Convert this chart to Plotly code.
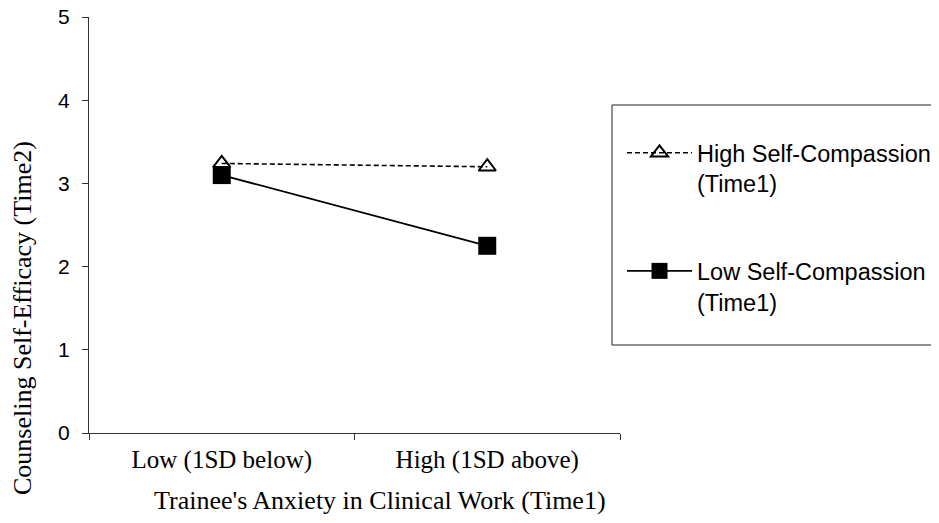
import plotly.graph_objects as go

categories = ["Low (1SD below)", "High (1SD above)"]
high_sc = [3.24, 3.20]
low_sc = [3.10, 2.25]
series_names = ["High Self-Compassion<br>(Time1)", "Low Self-Compassion<br>(Time1)"]
y_ticks = [0, 1, 2, 3, 4, 5]

OFF = 8  # page body margin
W, H = 939 - OFF, 523 - OFF
PL, PR, PT, PB = 89, 620, 17, 433  # plot area in page pixels
L, T = PL - OFF, PT - OFF
R, B = W - (PR - OFF), H - (PB - OFF)
pw, ph = PR - PL, PB - PT

def px(x):
    return (x - PL) / pw

def py(y):
    return (PB - y) / ph

SERIF = "Liberation Serif, Times New Roman, serif"
SANS = "Liberation Sans, Arial, sans-serif"

fig = go.Figure()
fig.add_trace(go.Scatter(
    x=categories, y=high_sc, name=series_names[0], mode="lines+markers",
    line=dict(color="black", width=1.6, dash="5px,3px"),
    marker=dict(symbol="triangle-up-open", size=15, color="black", line=dict(width=2, color="black")),
    legendgroup="a"))
fig.add_trace(go.Scatter(
    x=categories, y=low_sc, name=series_names[1], mode="lines+markers",
    line=dict(color="black", width=1.8),
    marker=dict(symbol="square", size=18, color="black"),
    legendgroup="b"))

fig.update_layout(
    width=W, height=H, margin=dict(l=L, r=R, t=T, b=B, autoexpand=False),
    plot_bgcolor="white", paper_bgcolor="white",
    font=dict(family=SANS, color="black", size=16),
    showlegend=True,
    legend=dict(x=px(622), y=py(131), xanchor="left", yanchor="top",
                bgcolor="rgba(0,0,0,0)", borderwidth=0, valign="top", itemwidth=65,
                tracegroupgap=54, font=dict(size=23.5, family=SANS)),
    xaxis=dict(range=[-0.5, 1.5], showline=True, linecolor="#333", linewidth=1,
               ticks="outside", tickson="boundaries", ticklen=6, tickcolor="#333",
               showgrid=False, zeroline=False, ticklabelstandoff=4,
               tickfont=dict(family=SERIF, size=25)),
    yaxis=dict(range=[0, 5], tickvals=y_ticks, showline=True, linecolor="#333", linewidth=1,
               ticks="outside", ticklen=6, tickcolor="#333", showgrid=False, zeroline=False,
               ticklabelstandoff=8, ticklabeloverflow="allow",
               tickfont=dict(family=SANS, size=21)),
    shapes=[dict(type="rect", xref="paper", yref="paper",
                 x0=px(612), x1=px(945), y0=py(345), y1=py(105),
                 line=dict(color="#222", width=1), fillcolor="rgba(0,0,0,0)")],
    annotations=[
        dict(text="Trainee's Anxiety in Clinical Work (Time1)", xref="paper", yref="paper",
             x=px(380), y=py(500), showarrow=False, xanchor="center", yanchor="middle",
             font=dict(family=SERIF, size=26)),
        dict(text="Counseling Self-Efficacy (Time2)", xref="paper", yref="paper",
             x=px(22), y=py(318), showarrow=False, xanchor="center", yanchor="middle",
             textangle=-90, font=dict(family=SERIF, size=26)),
    ],
)

fig.write_html("out.html")
